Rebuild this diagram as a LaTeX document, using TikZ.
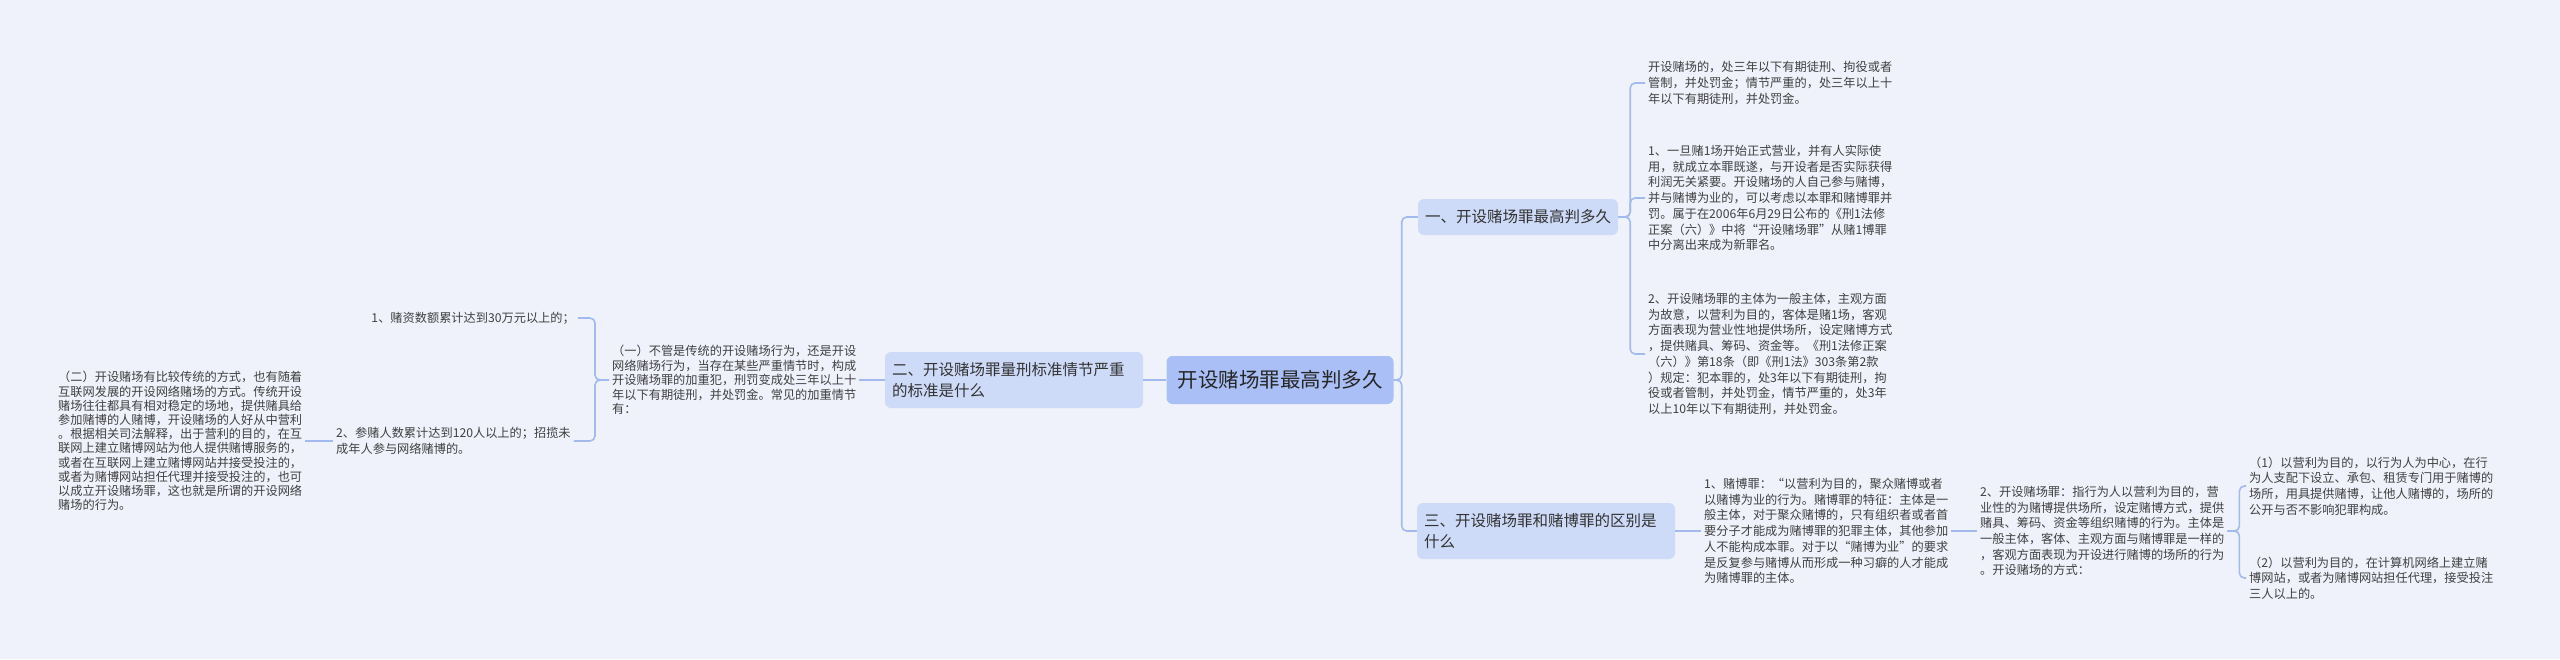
\documentclass[tikz,border=0pt]{standalone}
\usepackage{fontspec}
\setmainfont{Noto Sans CJK SC}
\definecolor{bgcol}{HTML}{EFF2FB}
\definecolor{rootblue}{HTML}{A9BFF5}
\definecolor{topicblue}{HTML}{CDDAF8}
\definecolor{lineblue}{HTML}{A3BAF0}
\begin{document}
\begin{tikzpicture}[
  x=1pt, y=-1pt,
  rootbox/.style={rectangle, rounded corners=6pt, fill=rootblue, text=black!85, font=\fontsize{20.5}{24}\selectfont, inner xsep=11pt, minimum height=48pt},
  topic/.style={rectangle, rounded corners=6pt, fill=topicblue, text=black!80, font=\fontsize{15.5}{20.5}\selectfont, inner xsep=7pt, align=left},
  leaf/.style={inner xsep=3pt, inner ysep=2pt, align=left, text=black!75, font=\fontsize{12.2}{15.7}\selectfont},
  conn/.style={draw=lineblue, line width=1.6pt, rounded corners=5pt}
]
  \useasboundingbox (0,0) rectangle (2560,659);
  \fill[bgcol] (0,0) rectangle (2560,659);

  % Centro y ramas principales
  \node[rootbox] (root) at (1280,380) {开设赌场罪最高判多久};
  \node[topic, minimum height=36pt] (t1) at (1518,217) {一、开设赌场罪最高判多久};
  \node[topic, text width=244pt, minimum height=56pt] (t2) at (1014,380) {二、开设赌场罪量刑标准情节严重\\的标准是什么};
  \node[topic, text width=244pt, minimum height=56pt] (t3) at (1546,531) {三、开设赌场罪和赌博罪的区别是\\什么};

  % Hojas de la rama uno
  \node[leaf, anchor=west] (a1) at (1645,83) {开设赌场的，处三年以下有期徒刑、拘役或者\\管制，并处罚金；情节严重的，处三年以上十\\年以下有期徒刑，并处罚金。};
  \node[leaf, anchor=west] (a2) at (1645,198) {1、一旦赌1场开始正式营业，并有人实际使\\用，就成立本罪既遂，与开设者是否实际获得\\利润无关紧要。开设赌场的人自己参与赌博，\\并与赌博为业的，可以考虑以本罪和赌博罪并\\罚。属于在2006年6月29日公布的《刑1法修\\正案（六）》中将“开设赌场罪”从赌1博罪\\中分离出来成为新罪名。};
  \node[leaf, anchor=west] (a3) at (1645,354) {2、开设赌场罪的主体为一般主体，主观方面\\为故意，以营利为目的，客体是赌1场，客观\\方面表现为营业性地提供场所，设定赌博方式\\，提供赌具、筹码、资金等。《刑1法修正案\\（六）》第18条（即《刑1法》303条第2款\\）规定：犯本罪的，处3年以下有期徒刑，拘\\役或者管制，并处罚金，情节严重的，处3年\\以上10年以下有期徒刑，并处罚金。};

  % Hojas de la rama tres
  \node[leaf, anchor=west] (b1) at (1701,531) {1、赌博罪：“以营利为目的，聚众赌博或者\\以赌博为业的行为。赌博罪的特征：主体是一\\般主体，对于聚众赌博的，只有组织者或者首\\要分子才能成为赌博罪的犯罪主体，其他参加\\人不能构成本罪。对于以“赌博为业”的要求\\是反复参与赌博从而形成一种习癖的人才能成\\为赌博罪的主体。};
  \node[leaf, anchor=west] (b2) at (1977,531) {2、开设赌场罪：指行为人以营利为目的，营\\业性的为赌博提供场所，设定赌博方式，提供\\赌具、筹码、资金等组织赌博的行为。主体是\\一般主体，客体、主观方面与赌博罪是一样的\\，客观方面表现为开设进行赌博的场所的行为\\。开设赌场的方式：};
  \node[leaf, anchor=west] (c1) at (2246,486) {（1）以营利为目的，以行为人为中心，在行\\为人支配下设立、承包、租赁专门用于赌博的\\场所，用具提供赌博，让他人赌博的，场所的\\公开与否不影响犯罪构成。};
  \node[leaf, anchor=west] (c2) at (2246,578) {（2）以营利为目的，在计算机网络上建立赌\\博网站，或者为赌博网站担任代理，接受投注\\三人以上的。};

  % Hojas de la rama dos
  \node[leaf, anchor=west, font=\fontsize{12.2}{14.5}\selectfont] (s1) at (609,380) {（一）不管是传统的开设赌场行为，还是开设\\网络赌场行为，当存在某些严重情节时，构成\\开设赌场罪的加重犯，刑罚变成处三年以上十\\年以下有期徒刑，并处罚金。常见的加重情节\\有：};
  \node[leaf, anchor=east] (s11) at (578,318) {1、赌资数额累计达到30万元以上的；};
  \node[leaf, anchor=west] (s12) at (333,441) {2、参赌人数累计达到120人以上的；招揽未\\成年人参与网络赌博的。};
  \node[leaf, anchor=west, font=\fontsize{12.2}{14.2}\selectfont] (s2) at (55,441) {（二）开设赌场有比较传统的方式，也有随着\\互联网发展的开设网络赌场的方式。传统开设\\赌场往往都具有相对稳定的场地，提供赌具给\\参加赌博的人赌博，开设赌场的人好从中营利\\。根据相关司法解释，出于营利的目的，在互\\联网上建立赌博网站为他人提供赌博服务的，\\或者在互联网上建立赌博网站并接受投注的，\\或者为赌博网站担任代理并接受投注的，也可\\以成立开设赌场罪，这也就是所谓的开设网络\\赌场的行为。};

  % Conectores
  \draw[conn] (root.east) -- ++(8,0) |- (t1.west);
  \draw[conn] (root.east) -- ++(8,0) |- (t3.west);
  \draw[conn] (root.west) -- (t2.east);
  \draw[conn] (t1.east) -- ++(12,0) |- (a1.west);
  \draw[conn] (t1.east) -- ++(12,0) |- (a2.west);
  \draw[conn] (t1.east) -- ++(12,0) |- (a3.west);
  \draw[conn] (t3.east) -- (b1.west);
  \draw[conn] (b1.east) -- (b2.west);
  \draw[conn] (b2.east) -- ++(12,0) |- (c1.west);
  \draw[conn] (b2.east) -- ++(12,0) |- (c2.west);
  \draw[conn] (t2.west) -- (s1.east);
  \draw[conn] (s1.west) -- ++(-14,0) |- (s11.east);
  \draw[conn] (s1.west) -- ++(-14,0) |- (s12.east);
  \draw[conn] (s12.west) -- (s2.east);
\end{tikzpicture}
\end{document}
